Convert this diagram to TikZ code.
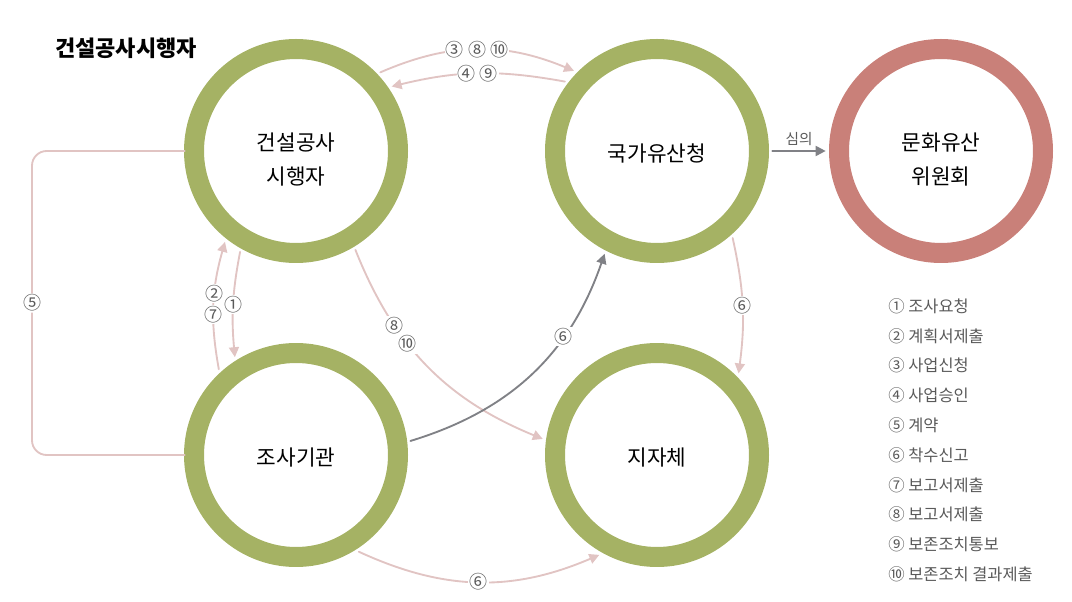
\documentclass[tikz,border=0pt]{standalone}
\usepackage{fontspec}
\setmainfont{Noto Sans CJK KR}
\usepackage{tikz}
\usetikzlibrary{arrows.meta}
\definecolor{ringgreen}{RGB}{165,178,100}
\definecolor{ringred}{RGB}{201,128,121}
\definecolor{linkpink}{RGB}{225,196,195}
\definecolor{linkgray}{RGB}{128,129,134}
\definecolor{numgray}{RGB}{90,90,90}
\tikzset{
  ring/.style={circle,draw=ringgreen,line width=15pt,minimum size=153pt,outer sep=10pt},
  ringtext/.style={align=center,inner sep=0pt,yshift=-2pt,font=\fontsize{16}{26}\selectfont},
  pinkline/.style={draw=linkpink,line width=1.4pt},
  pinkarrow/.style={pinkline,-{Triangle[length=7.5pt,width=7.5pt]}},
  grayarrow/.style={draw=linkgray,line width=1.4pt,-{Triangle[length=7.5pt,width=7.5pt]}},
  num/.style={fill=white,inner sep=1pt,text=numgray,font=\fontsize{13.5}{15}\selectfont},
  legend/.style={anchor=west,inner sep=0pt,text=numgray,font=\fontsize{12.3}{14}\selectfont}
}
\begin{document}
\begin{tikzpicture}[line cap=round,line join=round,x=0.75pt,y=-0.75pt]
  \useasboundingbox (0,0) rectangle (1072,602);
  \node[anchor=west,inner sep=0pt,font=\bfseries\fontsize{16.5}{18}\selectfont] (title) at (55,48) {건설공사시행자};

  \node[ring] (sihaeng) at (296,151) {};
  \node[ring] (cheong) at (657,151) {};
  \node[ring] (gigwan) at (296,455) {};
  \node[ring] (jijache) at (657,455) {};
  \node[ring,draw=ringred] (wiwon) at (941,151) {};
  \node[ringtext,yshift=-4.5pt] (sihaengtxt) at (sihaeng) {건설공사\\시행자};
  \node[ringtext] (cheongtxt) at (cheong) {국가유산청};
  \node[ringtext] (gigwantxt) at (gigwan) {조사기관};
  \node[ringtext] (jijachetxt) at (jijache) {지자체};
  \node[ringtext,yshift=-4.5pt] (wiwontxt) at (wiwon) {문화유산\\위원회};

  \draw[pinkarrow] (sihaeng.43) to[bend left=23] node[num] (n3810) {③ ⑧ ⑩} (cheong.136);
  \draw[pinkarrow] (cheong.143) to[bend right=12] node[num] (n49) {④ ⑨} (sihaeng.34);
  \draw[pinkarrow] (gigwan.132) to[bend left=13] node[num,pos=0.42] (n7) {⑦} node[num,pos=0.6] (n2) {②} (sihaeng.232);
  \draw[pinkarrow] (sihaeng.241) to[bend right=8] node[num] (n1) {①} (gigwan.122);
  \draw[pinkarrow] (sihaeng.-59) to[bend right=23] node[num,pos=0.3] (n8) {⑧} node[num,pos=0.385] (n10) {⑩} (jijache.172);
  \draw[grayarrow] (gigwan.7) to[bend right=27] node[num,pos=0.68] (n6a) {⑥} (cheong.243);
  \draw[pinkarrow] (cheong.-49) to[bend left=10] node[num] (n6b) {⑥} (jijache.45);
  \draw[pinkarrow] (gigwan.-57) to[bend right=24] node[num] (n6c) {⑥} (jijache.240);
  \draw[grayarrow] (cheong.east) -- node[above=2pt,inner sep=1pt,text=numgray,font=\fontsize{11}{13}\selectfont] (simui) {심의} (wiwon.west);

  \coordinate (loop5) at (32,303);
  \draw[pinkline,rounded corners=11pt,shorten <=-3pt,shorten >=-3pt] (sihaeng.180) -| (loop5) node[num] (n5) {⑤} |- (gigwan.180);

  \foreach \n/\txt in {1/{① 조사요청},2/{② 계획서제출},3/{③ 사업신청},4/{④ 사업승인},5/{⑤ 계약},
      6/{⑥ 착수신고},7/{⑦ 보고서제출},8/{⑧ 보고서제출},9/{⑨ 보존조치통보},10/{⑩ 보존조치 결과제출}}{
    \node[legend] (leg\n) at (888,{306+29.8*(\n-1)}) {\txt};
  }
\end{tikzpicture}
\end{document}
